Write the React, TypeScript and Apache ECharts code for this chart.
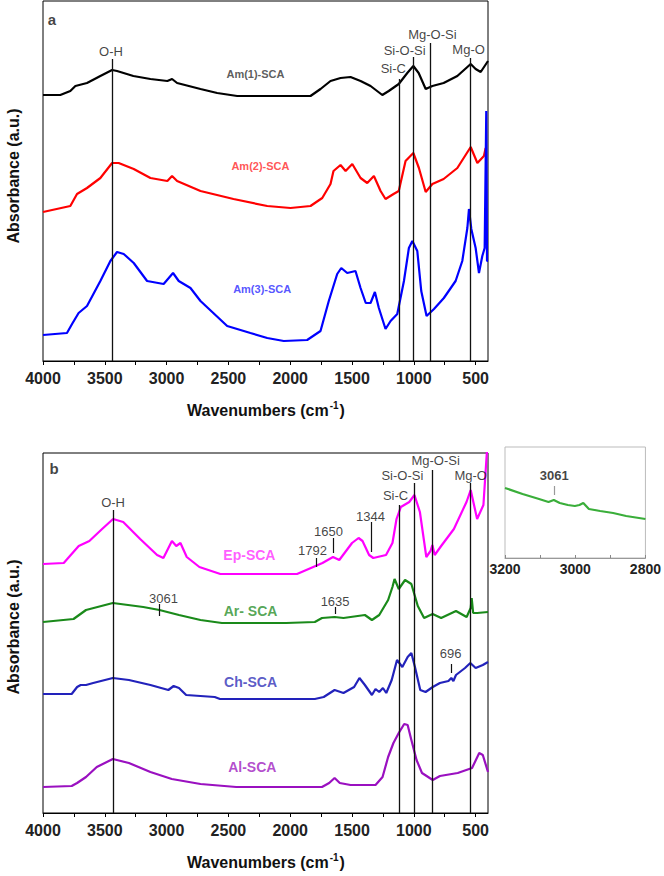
import React, { useEffect, useRef } from 'react';
import * as echarts from 'echarts';

const FONT = '"Liberation Sans", Arial, Helvetica, sans-serif';

// ---------- Panel a spectra: [wavenumber (cm-1), absorbance (a.u., stacked offset)] ----------
const am1SCA = [[4000,266],[3860,266],[3779,270],[3738,275],[3644,278],[3536,285],[3441,291],[3401,290],[3269,285],[3131,282],[2994,280],[2956,282],[2915,278],[2726,272],[2591,268],[2429,265],[2186,265],[1836,265],[1755,272],[1674,280],[1593,283],[1512,284],[1431,280],[1350,275],[1255,266],[1203,270],[1122,277],[1053,288],[1004,295],[961,288],[904,272],[850,275],[759,278],[648,285],[540,297],[500,292],[459,289],[400,300]];
const am2SCA = [[4000,149],[3779,155],[3725,167],[3644,173],[3536,183],[3441,198],[3388,198],[3266,192],[3131,183],[2994,180],[2956,185],[2915,180],[2726,170],[2459,162],[2186,155],[1998,153],[1836,155],[1741,163],[1674,177],[1650,190],[1593,196],[1552,190],[1498,197],[1431,183],[1377,178],[1323,185],[1269,170],[1229,162],[1164,167],[1122,170],[1067,200],[1004,208],[959,193],[904,169],[850,177],[759,182],[648,193],[540,214],[486,198],[433,205],[419,213]];
const am3SCA = [[4000,26],[3806,28],[3765,37],[3712,48],[3644,55],[3536,80],[3455,100],[3401,109],[3347,107],[3266,98],[3158,80],[3024,77],[2948,88],[2902,80],[2807,73],[2726,60],[2510,35],[2322,28],[2186,23],[2052,20],[1863,21],[1755,30],[1688,60],[1620,87],[1587,93],[1539,88],[1472,90],[1431,73],[1389,58],[1350,58],[1315,69],[1283,53],[1229,32],[1188,40],[1134,47],[1080,80],[1040,113],[1012,120],[972,110],[940,70],[897,45],[837,52],[757,63],[662,80],[608,100],[567,133],[554,152],[535,132],[500,113],[473,88],[446,105],[427,113],[414,250],[408,100],[400,100]];

// ---------- Panel b spectra ----------
const epSCA = [[4000,249],[3832,250],[3747,262],[3711,267],[3625,272],[3522,284],[3433,294],[3351,291],[3214,274],[3077,258],[3026,255],[2957,272],[2922,267],[2888,270],[2837,256],[2735,246],[2565,239],[1945,239],[1739,250],[1654,256],[1603,253],[1500,270],[1447,275],[1415,272],[1362,258],[1328,255],[1225,258],[1173,270],[1140,294],[1105,306],[1037,311],[995,318],[951,301],[899,256],[865,262],[850,268],[831,258],[779,267],[676,284],[574,311],[540,323],[488,294],[437,308],[409,361],[400,361]];
const arSCA = [[4000,191],[3753,194],[3652,203],[3435,210],[3189,206],[3058,203],[2900,198],[2726,193],[2553,190],[2033,190],[1801,191],[1743,195],[1641,196],[1569,195],[1396,198],[1339,193],[1280,198],[1208,213],[1173,226],[1156,234],[1122,224],[1071,233],[1020,229],[968,207],[917,195],[848,199],[779,195],[659,202],[573,196],[540,205],[532,215],[520,200],[488,200],[400,201]];
const chSCA = [[4000,119],[3768,119],[3724,126],[3695,128],[3652,128],[3594,130],[3435,135],[3305,133],[3131,128],[2986,123],[2943,127],[2900,125],[2842,118],[2611,116],[2568,114],[1801,114],[1729,116],[1641,123],[1569,120],[1483,126],[1440,135],[1396,128],[1339,118],[1310,124],[1280,121],[1250,125],[1223,120],[1179,133],[1136,153],[1093,146],[1050,156],[1020,160],[991,146],[948,123],[905,121],[847,126],[789,130],[720,132],[697,135],[680,132],[659,138],[586,145],[543,150],[500,145],[442,148],[400,151]];
const alSCA = [[4000,26],[3768,27],[3724,30],[3652,36],[3565,46],[3435,54],[3305,50],[3131,41],[2958,34],[2726,29],[2437,26],[1743,26],[1685,30],[1641,35],[1599,30],[1512,28],[1310,28],[1253,36],[1208,56],[1165,70],[1122,80],[1078,89],[1050,88],[1020,73],[978,53],[934,40],[847,33],[789,37],[645,40],[529,45],[471,60],[442,58],[400,41]];

// ---------- Inset (Ar-SCA, 3200-2800 cm-1) ----------
const arInset = [[3200,70],[3150,64],[3103,59],[3076,56],[3061,58],[3044,55],[3021,53],[3001,52],[2988,53],[2977,55],[2961,49],[2929,47],[2892,45],[2855,42],[2800,39]];

// ---------- Axis ticks ----------
const xTicks = [4000,3750,3500,3250,3000,2750,2500,2250,2000,1750,1500,1250,1000,750,500];
const xLabels = [4000,3500,3000,2500,2000,1500,1000,500];
const insetTicks = [3200,3100,3000,2900,2800];
const insetLabels = [3200,3000,2800];

// ---------- Bond assignment lines: [label, line wavenumber, line top (a.u.), text wavenumber, text level] ----------
const bondsA = [['O-H',3440,302,3450,310],['Si-C',1120,282,1166,293],['Si-O-Si',1005,304,1075,311],['Mg-O-Si',865,318,850,327],['Mg-O',540,303,557,312]];
const bondsB = [['O-H',3432,303,3433,311],['Si-C',1115,308,1148,318],['Si-O-Si',1000,330,1093,338],['Mg-O-Si',850,343,824,353],['Mg-O',540,330,540,338]];
// Peak marks: [label, wavenumber, tick top, tick bottom, text wavenumber, text level]
const peaksB = [['1792',1792,255,246,1820,263],['1650',1650,275,260,1690,282],['1344',1344,291,261,1350,297],['3061',3061,209,197,3025,215],['1635',1635,206,199,1637,212],['696',696,149,140,702,160]];
const peaksInset = [['3061',3061,72,63,3060,83]];

// Series name labels: [name, wavenumber, level]
const namesA = [['Am(1)-SCA',2281,287],['Am(2)-SCA',2241,195],['Am(3)-SCA',2227,72]];
const namesB = [['Ep-SCA',2330,258],['Ar- SCA',2321,202],['Ch-SCA',2321,131],['Al-SCA',2307,46]];

const COLORS: Record<string, string> = {
  'Am(1)-SCA': '#000000', 'Am(2)-SCA': '#ff0000', 'Am(3)-SCA': '#0000ff',
  'Ep-SCA': '#ff00ff', 'Ar- SCA': '#1a8a1a', 'Ch-SCA': '#2222bb', 'Al-SCA': '#9a10c0', inset: '#3aae3a',
};
const NAME_COLORS: Record<string, string> = {
  'Am(1)-SCA': '#333333', 'Am(2)-SCA': '#ff2a2a', 'Am(3)-SCA': '#2a2aff',
  'Ep-SCA': '#ff33ff', 'Ar- SCA': '#2a8f2a', 'Ch-SCA': '#3030b8', 'Al-SCA': '#a020c0',
};

const plain = (v: number) => String(v);

function mainX(gridIndex: number) {
  return {
    gridIndex, type: 'value', min: 400, max: 4000, inverse: true,
    axisLine: { show: true, onZero: false, lineStyle: { color: '#000', width: 1 } },
    axisTick: { show: true, inside: false, length: 4, customValues: xTicks, lineStyle: { color: '#000' } },
    axisLabel: { show: true, customValues: xLabels, formatter: plain, margin: 9, fontSize: 16, fontWeight: 'bold', color: '#222', fontFamily: FONT },
    splitLine: { show: false },
  };
}
function hiddenY(gridIndex: number, max: number) {
  return { gridIndex, type: 'value', min: 0, max, show: false, splitLine: { show: false } };
}
function spectrum(name: string, data: number[][], axis: number, color: string, width = 2.2) {
  return {
    name, type: 'line', xAxisIndex: axis, yAxisIndex: axis, data, showSymbol: false, symbol: 'none',
    lineStyle: { color, width }, silent: true, z: 2, animation: false,
  };
}
function textPoint(text: string, x: number, y: number, color: string, size: number, weight: string) {
  return {
    value: [x, y],
    label: { show: true, position: 'inside', formatter: text, color, fontSize: size, fontWeight: weight, fontFamily: FONT },
  };
}
function annotations(axis: number, bonds: any[], peaks: any[], names: any[], letter: any, peakColor = '#111', lineColor = '#111', bondSize = 13) {
  const data: any[] = [];
  bonds.forEach((b) => data.push(textPoint(b[0], b[3], b[4], '#111', bondSize, 'normal')));
  peaks.forEach((p) => data.push(textPoint(p[0], p[4], p[5], '#111', 13, axis === 2 ? 'bold' : 'normal')));
  names.forEach((n) => data.push(textPoint(n[0], n[1], n[2], NAME_COLORS[n[0]], axis === 0 ? 11 : 14, 'bold')));
  if (letter) data.push(textPoint(letter[0], letter[1], letter[2], '#111', 15, 'bold'));
  const lines: any[] = [];
  bonds.forEach((b) => lines.push([{ coord: [b[1], b[2]] }, { coord: [b[1], 0] }]));
  const peakLines: any[] = [];
  peaks.forEach((p) => peakLines.push([{ coord: [p[1], p[2]] }, { coord: [p[1], p[3]] }]));
  return [
    {
      type: 'scatter', xAxisIndex: axis, yAxisIndex: axis, symbolSize: 1, itemStyle: { color: 'rgba(0,0,0,0)' },
      data, silent: true, z: 5,
      markLine: {
        silent: true, symbol: ['none', 'none'], label: { show: false },
        lineStyle: { color: lineColor, width: 1.3, type: 'solid' }, emphasis: { disabled: true },
        data: lines,
      },
    },
    {
      type: 'scatter', xAxisIndex: axis, yAxisIndex: axis, symbolSize: 1, itemStyle: { color: 'rgba(0,0,0,0)' },
      data: [], silent: true, z: 5,
      markLine: {
        silent: true, symbol: ['none', 'none'], label: { show: false },
        lineStyle: { color: peakColor, width: 1.2, type: 'solid' }, emphasis: { disabled: true },
        data: peakLines,
      },
    },
  ];
}

export default function App() {
  const ref = useRef<HTMLDivElement>(null);
  useEffect(() => {
    if (!ref.current) return;
    const chart = echarts.init(ref.current, undefined, { renderer: 'svg' });
    const xTitle = (y: number) => ({
      type: 'text', x: 266, y, silent: true,
      style: {
        text: '{a|Wavenumbers (cm}{s|-1}{a|)}', align: 'center', verticalAlign: 'middle',
        rich: {
          a: { fontSize: 16, fontWeight: 'bold', fontFamily: FONT, fill: '#111', color: '#111' },
          s: { fontSize: 10, fontWeight: 'bold', fontFamily: FONT, fill: '#111', color: '#111', verticalAlign: 'top', padding: [0, 1, 9, 1] },
        },
      },
    });
    const yTitle = (y: number) => ({
      type: 'text', x: 13, y, rotation: Math.PI / 2, silent: true,
      style: { text: 'Absorbance (a.u.)', fontSize: 16, fontWeight: 'bold', fontFamily: FONT, fill: '#111', align: 'center', verticalAlign: 'middle' },
    });
    const option: any = {
      animation: false,
      backgroundColor: '#ffffff',
      grid: [
        { left: 43, top: 1, width: 445, height: 360, show: true, borderColor: '#000', borderWidth: 1 },
        { left: 43, top: 453, width: 445, height: 360, show: true, borderColor: '#000', borderWidth: 1 },
        { left: 505, top: 447, width: 145, height: 111, show: true, borderColor: '#bbbbbb', borderWidth: 1 },
      ],
      xAxis: [
        mainX(0),
        mainX(1),
        {
          gridIndex: 2, type: 'value', min: 2800, max: 3200, inverse: true,
          axisLine: { show: true, onZero: false, lineStyle: { color: '#999', width: 1 } },
          axisTick: { show: true, inside: true, length: 3, customValues: insetTicks, lineStyle: { color: '#888' } },
          axisLabel: { show: true, customValues: insetLabels, formatter: plain, margin: 4, fontSize: 14, fontWeight: 'bold', color: '#222', fontFamily: FONT },
          splitLine: { show: false },
        },
      ],
      yAxis: [hiddenY(0, 360), hiddenY(1, 360), hiddenY(2, 111)],
      series: [
        spectrum('Am(1)-SCA', am1SCA, 0, COLORS['Am(1)-SCA']),
        spectrum('Am(2)-SCA', am2SCA, 0, COLORS['Am(2)-SCA']),
        spectrum('Am(3)-SCA', am3SCA, 0, COLORS['Am(3)-SCA']),
        spectrum('Ep-SCA', epSCA, 1, COLORS['Ep-SCA']),
        spectrum('Ar- SCA', arSCA, 1, COLORS['Ar- SCA']),
        spectrum('Ch-SCA', chSCA, 1, COLORS['Ch-SCA']),
        spectrum('Al-SCA', alSCA, 1, COLORS['Al-SCA']),
        spectrum('Ar-SCA inset', arInset, 2, COLORS.inset),
        ...annotations(0, bondsA, [], namesA, ['a', 3927, 342]),
        ...annotations(1, bondsB, peaksB, namesB, ['b', 3910, 345]),
        ...annotations(2, [], peaksInset, [], null, '#999'),
      ],
      graphic: [xTitle(410), xTitle(862), yTitle(176), yTitle(627)],
    };
    chart.setOption(option);
    return () => chart.dispose();
  }, []);
  return <div ref={ref} style={{ position: 'absolute', left: 0, top: 0, width: 664, height: 876 }} />;
}
